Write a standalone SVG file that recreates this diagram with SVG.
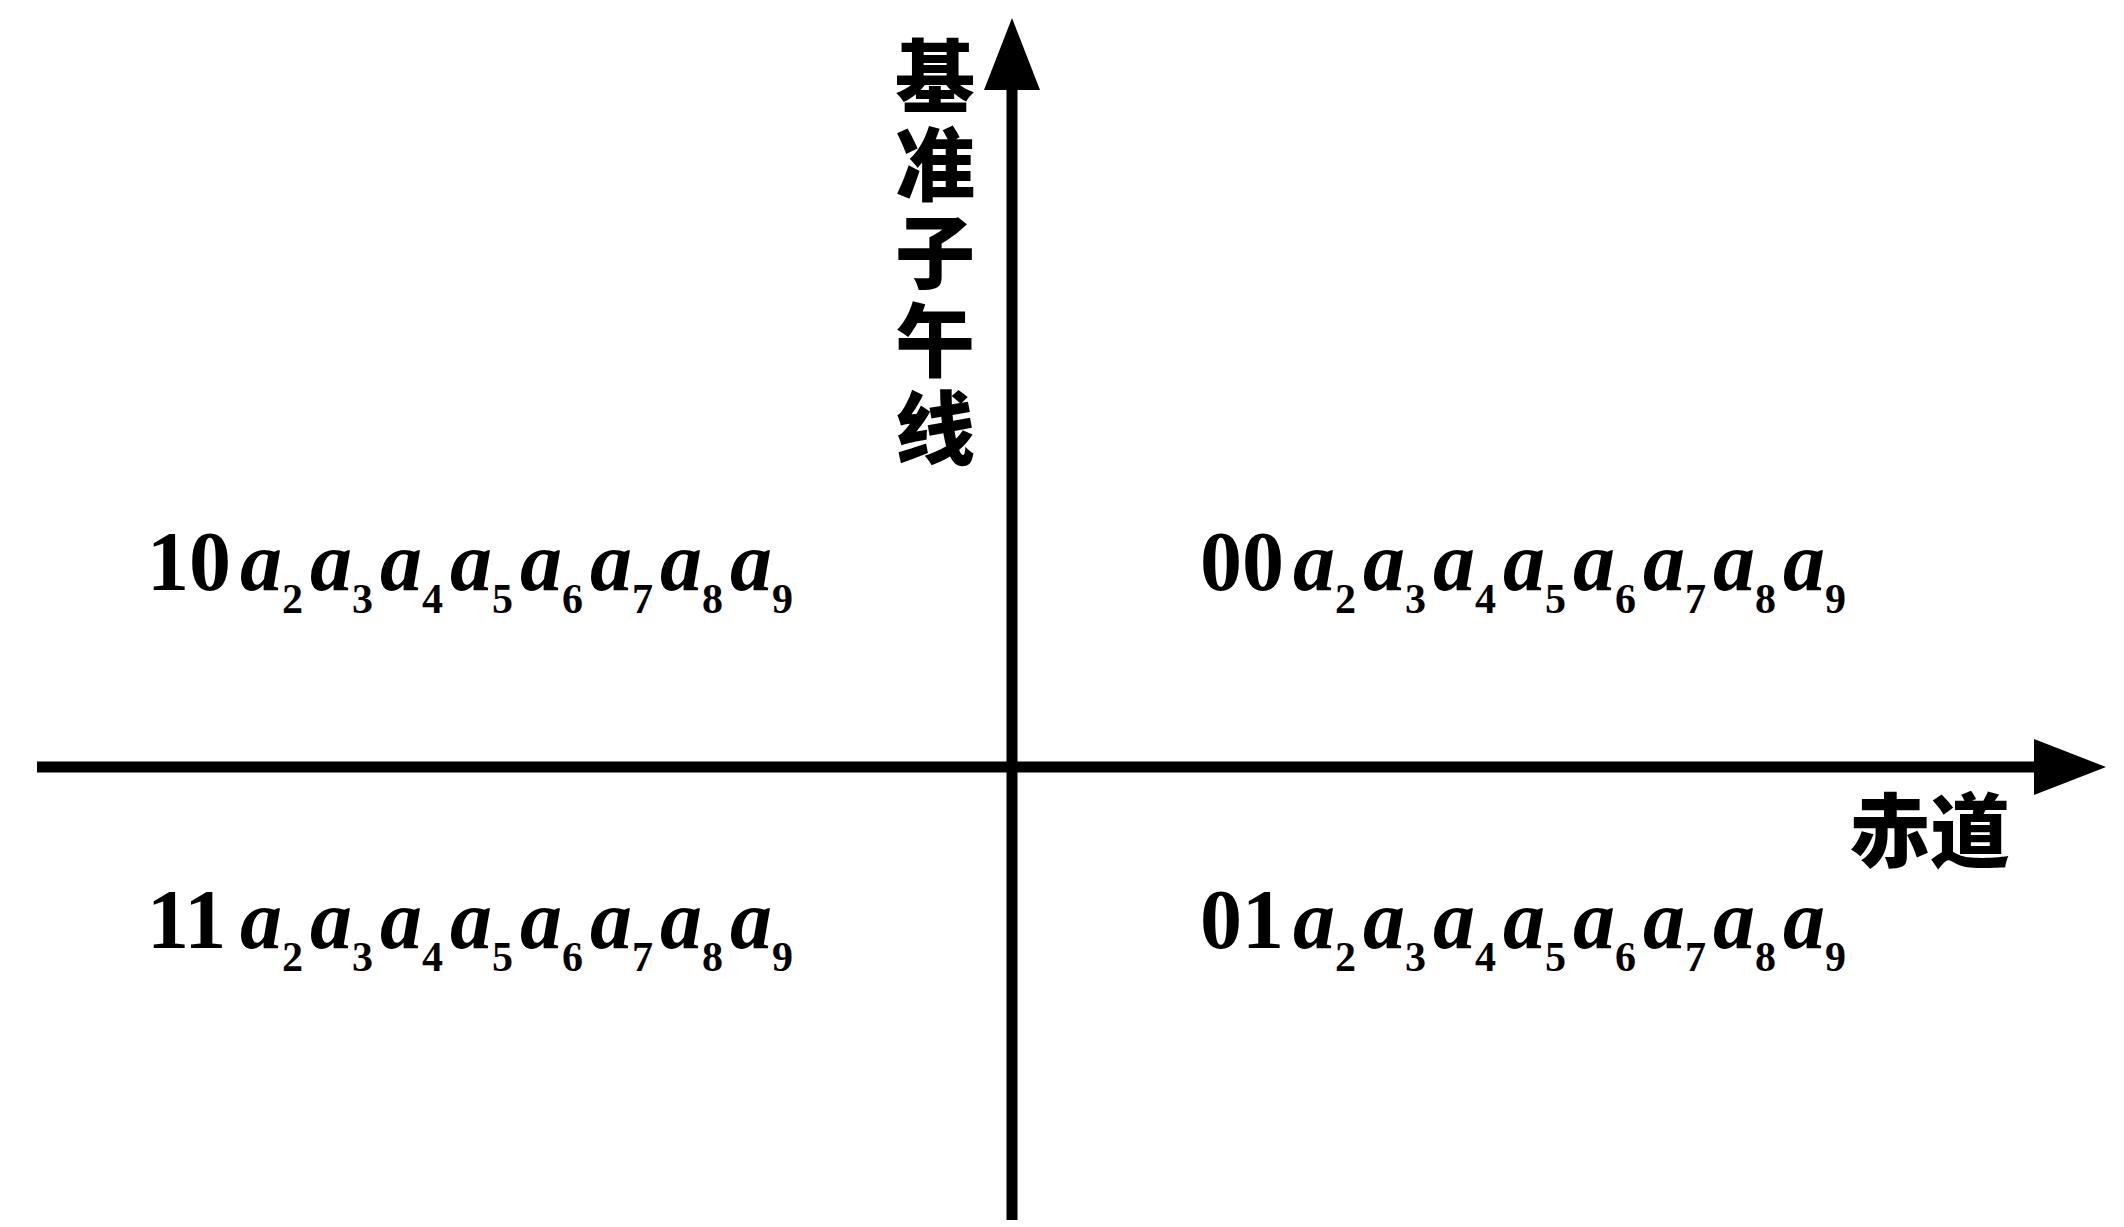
<svg xmlns="http://www.w3.org/2000/svg" width="2124" height="1227" viewBox="0 0 2124 1227">
<style>
.axis{stroke:#000;stroke-width:11;fill:none}
.cjk{font-family:"Noto Sans CJK SC","Noto Sans CJK JP",sans-serif;font-weight:900;font-size:80px;fill:#000}
.vert{writing-mode:vertical-rl;letter-spacing:8px}
.lbl{font-family:"Liberation Serif",serif;font-weight:bold;font-size:84px;fill:#000}
.a{font-style:italic}
.sub{font-size:42px;font-style:normal}
</style>
<defs>
<marker id="arr" viewBox="0 0 72 56" refX="12" refY="28" markerWidth="72" markerHeight="56" markerUnits="userSpaceOnUse" orient="auto">
<path d="M0,0 L72,28 L0,56 Z" fill="#000"/>
</marker>
</defs>
<rect width="2124" height="1227" fill="#fff"/>
<g id="connectors">
<line class="axis" x1="1012" y1="1220" x2="1012" y2="78" marker-end="url(#arr)"/>
<line class="axis" x1="37" y1="767" x2="2046" y2="767" marker-end="url(#arr)"/>
</g>
<g id="meridian-label">
<text class="cjk vert" x="935" y="36">基准子午线</text>
</g>
<g id="equator-label">
<text class="cjk" x="2010" y="860" text-anchor="end">赤道</text>
</g>
<g id="q10">
<text class="lbl" y="590"><tspan x="147">10</tspan><tspan class="a" x="240">a</tspan><tspan class="sub" x="282" y="613">2</tspan><tspan class="a" x="310" y="590">a</tspan><tspan class="sub" x="352" y="613">3</tspan><tspan class="a" x="380" y="590">a</tspan><tspan class="sub" x="422" y="613">4</tspan><tspan class="a" x="450" y="590">a</tspan><tspan class="sub" x="492" y="613">5</tspan><tspan class="a" x="520" y="590">a</tspan><tspan class="sub" x="562" y="613">6</tspan><tspan class="a" x="590" y="590">a</tspan><tspan class="sub" x="632" y="613">7</tspan><tspan class="a" x="660" y="590">a</tspan><tspan class="sub" x="702" y="613">8</tspan><tspan class="a" x="730" y="590">a</tspan><tspan class="sub" x="772" y="613">9</tspan></text>
</g>
<g id="q00">
<text class="lbl" y="590"><tspan x="1200">00</tspan><tspan class="a" x="1293">a</tspan><tspan class="sub" x="1335" y="613">2</tspan><tspan class="a" x="1363" y="590">a</tspan><tspan class="sub" x="1405" y="613">3</tspan><tspan class="a" x="1433" y="590">a</tspan><tspan class="sub" x="1475" y="613">4</tspan><tspan class="a" x="1503" y="590">a</tspan><tspan class="sub" x="1545" y="613">5</tspan><tspan class="a" x="1573" y="590">a</tspan><tspan class="sub" x="1615" y="613">6</tspan><tspan class="a" x="1643" y="590">a</tspan><tspan class="sub" x="1685" y="613">7</tspan><tspan class="a" x="1713" y="590">a</tspan><tspan class="sub" x="1755" y="613">8</tspan><tspan class="a" x="1783" y="590">a</tspan><tspan class="sub" x="1825" y="613">9</tspan></text>
</g>
<g id="q11">
<text class="lbl" y="948"><tspan x="147">11</tspan><tspan class="a" x="240">a</tspan><tspan class="sub" x="282" y="971">2</tspan><tspan class="a" x="310" y="948">a</tspan><tspan class="sub" x="352" y="971">3</tspan><tspan class="a" x="380" y="948">a</tspan><tspan class="sub" x="422" y="971">4</tspan><tspan class="a" x="450" y="948">a</tspan><tspan class="sub" x="492" y="971">5</tspan><tspan class="a" x="520" y="948">a</tspan><tspan class="sub" x="562" y="971">6</tspan><tspan class="a" x="590" y="948">a</tspan><tspan class="sub" x="632" y="971">7</tspan><tspan class="a" x="660" y="948">a</tspan><tspan class="sub" x="702" y="971">8</tspan><tspan class="a" x="730" y="948">a</tspan><tspan class="sub" x="772" y="971">9</tspan></text>
</g>
<g id="q01">
<text class="lbl" y="948"><tspan x="1200">01</tspan><tspan class="a" x="1293">a</tspan><tspan class="sub" x="1335" y="971">2</tspan><tspan class="a" x="1363" y="948">a</tspan><tspan class="sub" x="1405" y="971">3</tspan><tspan class="a" x="1433" y="948">a</tspan><tspan class="sub" x="1475" y="971">4</tspan><tspan class="a" x="1503" y="948">a</tspan><tspan class="sub" x="1545" y="971">5</tspan><tspan class="a" x="1573" y="948">a</tspan><tspan class="sub" x="1615" y="971">6</tspan><tspan class="a" x="1643" y="948">a</tspan><tspan class="sub" x="1685" y="971">7</tspan><tspan class="a" x="1713" y="948">a</tspan><tspan class="sub" x="1755" y="971">8</tspan><tspan class="a" x="1783" y="948">a</tspan><tspan class="sub" x="1825" y="971">9</tspan></text>
</g>
</svg>
